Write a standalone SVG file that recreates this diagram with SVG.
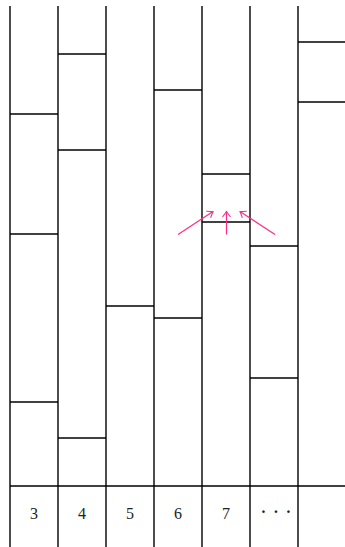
<svg xmlns="http://www.w3.org/2000/svg" width="345" height="547" viewBox="0 0 345 547">
<style>
.ln{stroke:#000;stroke-width:1.4;fill:none}
.ar{stroke:#ff2a8a;stroke-width:1.2;fill:none}
.lb{font-family:"Liberation Serif","DejaVu Serif",serif;font-size:16px;fill:#222;text-anchor:middle}
.dt{font-weight:bold}
</style>
<defs>
<marker id="ah" viewBox="-6 -5 8 10" markerWidth="8" markerHeight="10" refX="0" refY="0" orient="auto" markerUnits="userSpaceOnUse">
<path d="M-5.5,-4 Q-1.5,-1 0,0 Q-1.5,1 -5.5,4" stroke="#ff2a8a" stroke-width="1.1" fill="none"/>
</marker>
</defs>
<g id="grid">
<line class="ln" x1="10" y1="6" x2="10" y2="547"/>
<line class="ln" x1="58" y1="6" x2="58" y2="547"/>
<line class="ln" x1="106" y1="6" x2="106" y2="547"/>
<line class="ln" x1="154" y1="6" x2="154" y2="547"/>
<line class="ln" x1="202" y1="6" x2="202" y2="547"/>
<line class="ln" x1="250" y1="6" x2="250" y2="547"/>
<line class="ln" x1="298" y1="6" x2="298" y2="547"/>
<line class="ln" x1="10" y1="486" x2="345" y2="486"/>
</g>
<g id="col3">
<line class="ln" x1="10" y1="114" x2="58" y2="114"/>
<line class="ln" x1="10" y1="234" x2="58" y2="234"/>
<line class="ln" x1="10" y1="402" x2="58" y2="402"/>
<text class="lb" x="34" y="518.5">3</text>
</g>
<g id="col4">
<line class="ln" x1="58" y1="54" x2="106" y2="54"/>
<line class="ln" x1="58" y1="150" x2="106" y2="150"/>
<line class="ln" x1="58" y1="438" x2="106" y2="438"/>
<text class="lb" x="82" y="518.5">4</text>
</g>
<g id="col5">
<line class="ln" x1="106" y1="306" x2="154" y2="306"/>
<text class="lb" x="130" y="518.5">5</text>
</g>
<g id="col6">
<line class="ln" x1="154" y1="90" x2="202" y2="90"/>
<line class="ln" x1="154" y1="318" x2="202" y2="318"/>
<text class="lb" x="178" y="518.5">6</text>
</g>
<g id="col7">
<line class="ln" x1="202" y1="174" x2="250" y2="174"/>
<line class="ln" x1="202" y1="222" x2="250" y2="222"/>
<text class="lb" x="226" y="518.5">7</text>
</g>
<g id="colmore">
<line class="ln" x1="250" y1="246" x2="298" y2="246"/>
<line class="ln" x1="250" y1="378" x2="298" y2="378"/>
<text class="lb dt" x="263.5 276 288.5" y="516.5">···</text>
</g>
<g id="colend">
<line class="ln" x1="298" y1="42" x2="345" y2="42"/>
<line class="ln" x1="298" y1="102" x2="345" y2="102"/>
</g>
<g id="arrows">
<line class="ar" x1="178" y1="234.5" x2="213" y2="211.5" marker-end="url(#ah)"/>
<line class="ar" x1="226.5" y1="234.5" x2="226.5" y2="211.5" marker-end="url(#ah)"/>
<line class="ar" x1="275" y1="234.5" x2="240" y2="211.5" marker-end="url(#ah)"/>
</g>
</svg>
